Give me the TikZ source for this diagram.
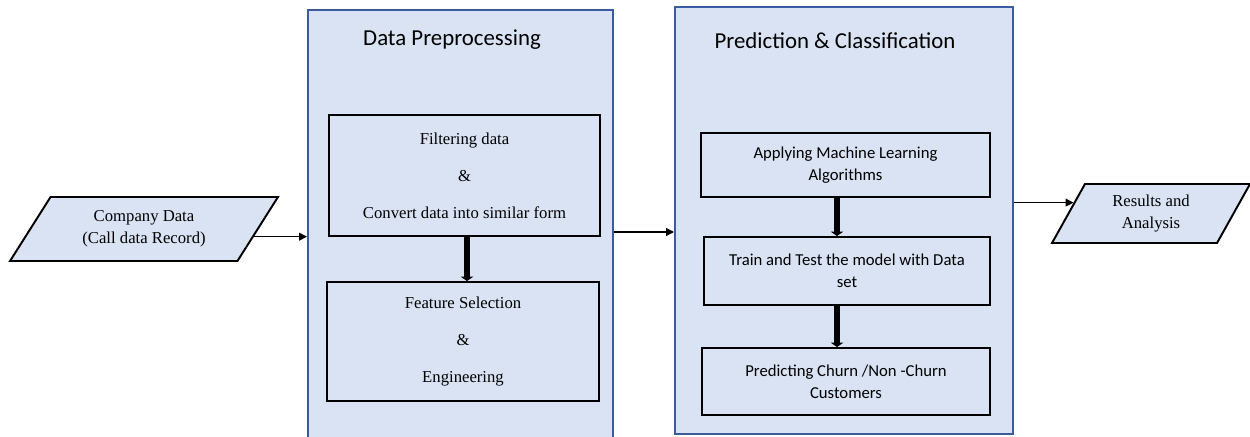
\documentclass[tikz,border=0pt]{standalone}
\usepackage{fontspec}
\setmainfont{Liberation Serif}
\newfontfamily\carlito{Carlito}
\usepackage{xcolor}
\usetikzlibrary{arrows.meta, shapes.geometric}
\definecolor{paleblue}{HTML}{DAE3F3}
\definecolor{edgeblue}{HTML}{3A5C9E}
\tikzset{
  panel/.style={draw=edgeblue, line width=1.2pt, fill=paleblue, inner sep=0pt},
  serifbox/.style={draw, line width=1.1pt, fill=paleblue, align=center, font=\fontsize{9.5}{21}\selectfont},
  sansbox/.style={draw, line width=1.1pt, fill=paleblue, align=center, font=\carlito\fontsize{9.5}{12.5}\selectfont},
  iobox/.style={trapezium, trapezium stretches body, draw, line width=1.1pt, fill=paleblue, align=center, font=\fontsize{9.5}{12.5}\selectfont},
  paneltitle/.style={font=\carlito\fontsize{13}{15}\selectfont},
  flow/.style={-{Triangle[length=4.5pt,width=4.5pt]}, line width=.6pt},
  bigflow/.style={-{Triangle[length=2.5pt,width=7pt]}, line width=3pt}
}

\begin{document}
\begin{tikzpicture}[x=0.02cm, y=-0.02cm]
\useasboundingbox (0,0) rectangle (1250,436);
\node[panel, minimum width=6.1cm, minimum height=8.56cm] (prep) at (460.5,224) {};
\node[panel, minimum width=6.76cm, minimum height=8.54cm] (pred) at (844,220.5) {};
\node[paneltitle] (t1) at (452,40) {Data Preprocessing};
\node[paneltitle] (t2) at (835,41) {Prediction \& Classification};
\node[serifbox, minimum width=5.42cm, minimum height=2.42cm] (filter) at (464.5,175.5) {Filtering data\\\&\\Convert data into similar form};
\node[serifbox, minimum width=5.44cm, minimum height=2.38cm] (feature) at (463,341.5) {Feature Selection\\\&\\Engineering};
\node[sansbox, minimum width=5.78cm, minimum height=1.28cm] (ml) at (845.5,165) {Applying Machine Learning\\Algorithms};
\node[sansbox, minimum width=5.72cm, minimum height=1.36cm] (train) at (847,271) {Train and Test the model with Data\\set};
\node[sansbox, minimum width=5.76cm, minimum height=1.34cm] (churn) at (846,381.5) {Predicting Churn /Non -Churn\\Customers};
\node[iobox, trapezium left angle=50, trapezium right angle=130, minimum width=5.36cm, minimum height=1.28cm] (cdr) at (144,229) {Company Data\\(Call data Record)};
\node[iobox, trapezium left angle=56, trapezium right angle=124, minimum width=3.96cm, minimum height=1.18cm] (res) at (1151,213.5) {Results and\\Analysis};
\draw[bigflow] ([xshift=.05cm]filter.south) -- ([xshift=.05cm]filter.south |- feature.north);
\draw[bigflow] ([xshift=-.17cm]ml.south) -- ([xshift=-.17cm]ml.south |- train.north);
\draw[bigflow] ([xshift=-.2cm]train.south) -- ([xshift=-.2cm]train.south |- churn.north);
\draw[flow] (cdr.-4) -- (cdr.-4 -| prep.west);
\path ([yshift=-.23cm]pred.west) coordinate (mid);
\draw[flow] (mid -| prep.east) -- (mid);
\draw[flow] (res.172 -| pred.east) -- (res.172);
\end{tikzpicture}
\end{document}
